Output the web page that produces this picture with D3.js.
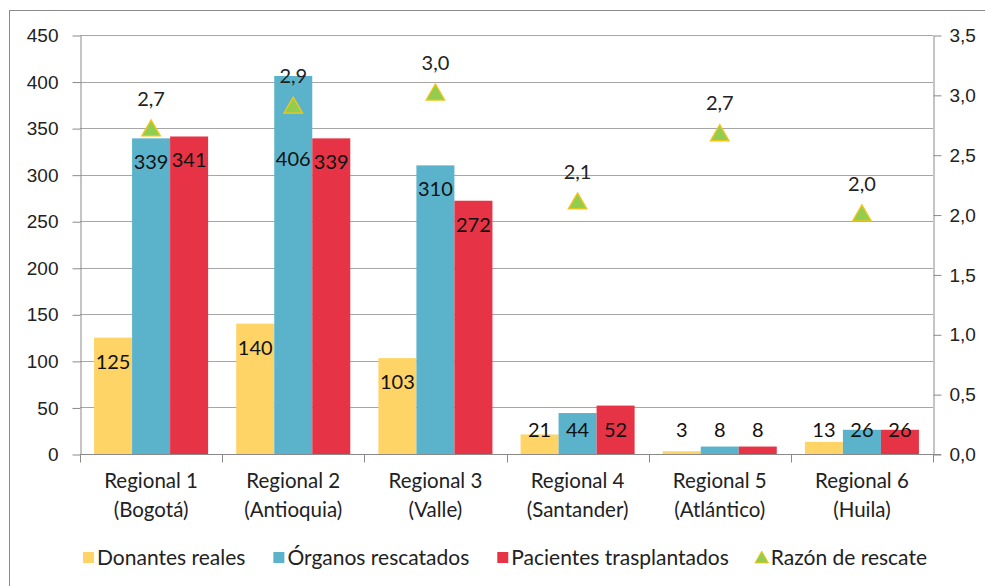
<!DOCTYPE html>
<html>
<head>
<meta charset="utf-8">
<script src="https://cdn.jsdelivr.net/npm/d3@7"></script>
<style>
  body { margin: 0; background: #fff; }
  svg { display: block; font-family: Lato, "Open Sans", sans-serif; }
</style>
</head>
<body>
<svg id="chart" width="985" height="586"></svg>
<script>
// values
const categories = ["Regional 1\n(Bogotá)", "Regional 2\n(Antioquia)", "Regional 3\n(Valle)",
                    "Regional 4\n(Santander)", "Regional 5\n(Atlántico)", "Regional 6\n(Huila)"]
const seriesNames = ["Donantes reales", "Órganos rescatados", "Pacientes trasplantados"]
const donantes = [125, 140, 103, 21, 3, 13]
const organos = [339, 406, 310, 44, 8, 26]
const pacientes = [341, 339, 272, 52, 8, 26]
const ratioName = "Razón de rescate"
const razon = [2.71, 2.90, 3.01, 2.10, 2.67, 2.00]
const leftTicks = [0, 50, 100, 150, 200, 250, 300, 350, 400, 450]
const rightTicks = [0, 0.5, 1, 1.5, 2, 2.5, 3, 3.5]

const colors = ["#FFD466", "#5BB3CB", "#E63446"]
const triFill = "#92CD4F", triStroke = "#F5C518"

const locale = d3.formatLocale({ decimal: ",", thousands: ".", grouping: [3], currency: ["$", ""] })
const f1 = locale.format(".1f")

let margin = { top: 35, right: 52, bottom: 132, left: 80 }
let width = 985, height = 586

let svg = d3.select('#chart')

// outer frame
svg.append('rect')
    .attr('x', 9.5).attr('y', 10.5)
    .attr('width', 1000).attr('height', 700)
    .attr('fill', 'none').attr('stroke', '#8a8a8a')

let x = d3.scaleBand()
    .domain(categories)
    .range([margin.left, width - margin.right])

let x1 = d3.scaleBand()
    .domain(seriesNames)
    .range([0, x.bandwidth()])
    .paddingOuter(0.37)

let y = d3.scaleLinear()
    .domain([0, 450])
    .range([height - margin.bottom, margin.top])

let yR = d3.scaleLinear()
    .domain([0, 3.5])
    .range([height - margin.bottom, margin.top])

// gridlines
svg.append('g')
    .selectAll('line')
    .data(leftTicks.filter(d => d > 0))
    .join('line')
    .attr('x1', margin.left).attr('x2', width - margin.right)
    .attr('y1', d => Math.round(y(d)) + 0.5).attr('y2', d => Math.round(y(d)) + 0.5)
    .attr('stroke', '#a6a6a6')

let yAxis = g => g
    .attr('transform', `translate(${margin.left + 0.5},0.5)`)
    .call(d3.axisLeft(y).tickValues(leftTicks).tickSize(8).tickPadding(14).tickSizeOuter(0))
    .call(g => g.selectAll('line, path').attr('stroke', '#8a8a8a'))

let yAxisR = g => g
    .attr('transform', `translate(${width - margin.right + 0.5},0.5)`)
    .call(d3.axisRight(yR).tickValues(rightTicks).tickFormat(f1).tickSize(8).tickPadding(8).tickSizeOuter(0))
    .call(g => g.selectAll('line, path').attr('stroke', '#8a8a8a'))

svg.append('g').call(yAxis)
svg.append('g').call(yAxisR)
svg.selectAll('.tick text').attr('font-size', 19).attr('fill', '#222')

// bars
let series = [donantes, organos, pacientes]
let rows = categories.map((c, i) => ({ cat: c, values: series.map((s, k) => ({ name: seriesNames[k], v: s[i], k })) }))

let group = svg.append('g').selectAll('g')
    .data(rows)
    .join('g')
    .attr('transform', d => `translate(${x(d.cat)},0)`)

group.selectAll('rect')
    .data(d => d.values)
    .join('rect')
    .attr('x', d => x1(d.name))
    .attr('y', d => y(d.v))
    .attr('width', x1.bandwidth())
    .attr('height', d => y(0) - y(d.v))
    .attr('fill', d => colors[d.k])

// x axis
let xAxisG = svg.append('g')
    .attr('transform', `translate(0,${y(0) + 0.5})`)
xAxisG.append('line')
    .attr('x1', margin.left).attr('x2', width - margin.right + 8)
    .attr('stroke', '#8a8a8a')
xAxisG.selectAll('.tk')
    .data(categories.concat(['end']))
    .join('line')
    .attr('x1', (d, i) => Math.round(margin.left + i * x.bandwidth()) + 0.5)
    .attr('x2', (d, i) => Math.round(margin.left + i * x.bandwidth()) + 0.5)
    .attr('y1', 0).attr('y2', 8)
    .attr('stroke', '#8a8a8a')
xAxisG.selectAll('text')
    .data(categories)
    .join('text')
    .attr('text-anchor', 'middle')
    .attr('font-size', 20.5)
    .attr('fill', '#222')
    .attr('transform', d => `translate(${x(d) + x.bandwidth() / 2},33)`)
    .selectAll('tspan')
    .data(d => d.split('\n'))
    .join('tspan')
    .attr('x', 0)
    .attr('dy', (d, i) => i ? 29 : 0)
    .text(d => d)

// ratio triangles
let tri = d3.symbol().type(d3.symbolTriangle).size(150)
svg.append('g').selectAll('path')
    .data(razon)
    .join('path')
    .attr('d', tri)
    .attr('transform', (d, i) => `translate(${x(categories[i]) + x.bandwidth() / 2},${yR(d) + 1})`)
    .attr('fill', triFill)
    .attr('stroke', triStroke)
    .attr('stroke-width', 1.3)

svg.append('g').selectAll('text')
    .data(razon)
    .join('text')
    .attr('x', (d, i) => x(categories[i]) + x.bandwidth() / 2)
    .attr('y', d => yR(d) - 31)
    .attr('dy', '0.35em')
    .attr('text-anchor', 'middle')
    .attr('font-size', 20)
    .attr('fill', '#222')
    .text(d => f1(d))

// bar value labels (inside end, kept clear of the triangles)
group.selectAll('text')
    .data((d, i) => d.values.map(v => ({ ...v, tri: yR(razon[i]) })))
    .join('text')
    .attr('x', d => x1(d.name) + x1.bandwidth() / 2)
    .attr('y', d => {
        let ly = Math.min(y(d.v) + 24, y(0) - 24)
        if (d.k === 1 && Math.abs(ly - d.tri) < 30) ly = d.tri + 52
        return ly
    })
    .attr('dy', '0.35em')
    .attr('text-anchor', 'middle')
    .attr('font-size', 20)
    .attr('fill', '#111')
    .text(d => d.v)

// legend
let legendItems = seriesNames.map((n, k) => ({ name: n, k })).concat([{ name: ratioName, k: 3 }])
let legend = svg.append('g').attr('transform', 'translate(83,558)')
let lx = 0
legendItems.forEach(d => {
    let g = legend.append('g').attr('transform', `translate(${lx},0)`)
    if (d.k < 3) {
        g.append('rect').attr('x', 0).attr('y', -6).attr('width', 11).attr('height', 11).attr('fill', colors[d.k])
    } else {
        g.append('path').attr('d', d3.symbol().type(d3.symbolTriangle).size(80))
            .attr('transform', 'translate(5,1)')
            .attr('fill', triFill).attr('stroke', triStroke)
    }
    let t = g.append('text').attr('x', 14).attr('dy', '0.35em')
        .attr('font-size', 21).attr('fill', '#222').text(d.name)
    lx += 14 + t.node().getComputedTextLength() + 28
})
</script>
</body>
</html>
